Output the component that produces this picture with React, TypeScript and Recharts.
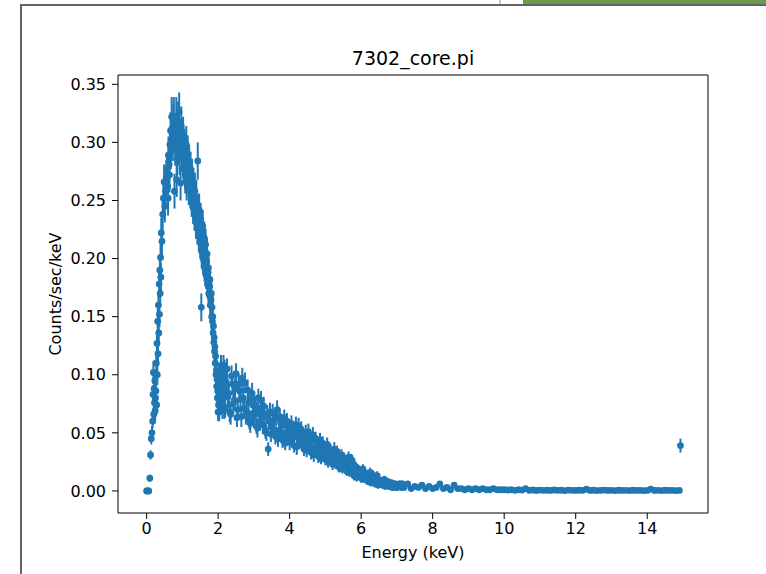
import { ErrorBar, ReferenceArea, Scatter, ScatterChart, XAxis, YAxis } from "recharts";

const BLUE = "#1f77b4";
const FONT = '"DejaVu Sans", sans-serif';

// rise and peak, 0 - 1 keV
const energyPeak = [
  0.0, 0.02, 0.04, 0.06, 0.09, 0.11, 0.13, 0.15, 0.17, 0.18,
  0.19, 0.21, 0.22, 0.24, 0.26, 0.27, 0.29, 0.31, 0.33, 0.35,
  0.37, 0.39, 0.41, 0.43, 0.45, 0.47, 0.49, 0.51, 0.53, 0.55,
  0.57, 0.59, 0.61, 0.63, 0.65, 0.67, 0.7, 0.73, 0.75, 0.78,
  0.81, 0.83, 0.85, 0.87, 0.89, 0.91, 0.93, 0.95, 0.97, 0.99,
  0.2, 0.23, 0.25, 0.28, 0.3, 0.32, 0.34, 0.36, 0.38, 0.4,
  0.6, 0.64, 0.68, 0.72, 0.76, 0.8, 0.84, 0.88, 0.92, 0.96,
];
const ratePeak = [
  0, 0, 0, 0, 0.011, 0.031, 0.045, 0.05, 0.06, 0.083,
  0.102, 0.088, 0.076, 0.069, 0.086, 0.11, 0.127, 0.146, 0.16, 0.178,
  0.19, 0.201, 0.222, 0.215, 0.238, 0.252, 0.266, 0.245, 0.258, 0.27,
  0.276, 0.262, 0.289, 0.281, 0.298, 0.31, 0.322, 0.3, 0.316, 0.258,
  0.305, 0.322, 0.286, 0.312, 0.296, 0.326, 0.304, 0.265, 0.314, 0.291,
  0.066, 0.095, 0.08, 0.074, 0.1, 0.118, 0.136, 0.152, 0.17, 0.184,
  0.252, 0.272, 0.293, 0.305, 0.322, 0.296, 0.268, 0.318, 0.288, 0.3,
];
const errorPeak = [
  0, 0, 0, 0, 0.003, 0.004, 0.005, 0.006, 0.006, 0.008,
  0.01, 0.009, 0.008, 0.008, 0.009, 0.01, 0.011, 0.011, 0.012, 0.012,
  0.012, 0.013, 0.013, 0.013, 0.014, 0.014, 0.015, 0.014, 0.015, 0.015,
  0.015, 0.015, 0.016, 0.016, 0.016, 0.016, 0.017, 0.016, 0.017, 0.015,
  0.016, 0.017, 0.016, 0.017, 0.016, 0.017, 0.016, 0.015, 0.017, 0.016,
  0.007, 0.009, 0.008, 0.008, 0.009, 0.01, 0.011, 0.011, 0.012, 0.012,
  0.015, 0.015, 0.016, 0.016, 0.017, 0.016, 0.015, 0.017, 0.016, 0.016,
];

// fall, 1 - 2.2 keV
const energyFall = [
  1.01, 1.03, 1.05, 1.07, 1.09, 1.11, 1.13, 1.15, 1.17, 1.19,
  1.21, 1.23, 1.25, 1.27, 1.29, 1.31, 1.33, 1.35, 1.37, 1.39,
  1.41, 1.43, 1.45, 1.47, 1.49, 1.51, 1.53, 1.55, 1.57, 1.59,
  1.61, 1.63, 1.65, 1.67, 1.69, 1.71, 1.73, 1.75, 1.77, 1.79,
  1.81, 1.83, 1.85, 1.87, 1.89, 1.91, 1.93, 1.95, 1.97, 1.99,
  2.01, 2.03, 2.05, 2.07, 2.09, 2.11, 2.13, 2.15, 2.17, 2.19,
  1.0, 1.02, 1.04, 1.06, 1.08, 1.1, 1.12, 1.14, 1.16, 1.18,
  1.2, 1.22, 1.24, 1.26, 1.28, 1.3, 1.32, 1.34, 1.36, 1.38,
  1.4, 1.42, 1.44, 1.46, 1.48, 1.5, 1.52, 1.54, 1.56, 1.58,
  1.6, 1.62, 1.64, 1.66, 1.68, 1.7, 1.72, 1.74, 1.76, 1.78,
  1.8, 1.82, 1.84, 1.86, 1.88, 1.9, 1.92, 1.94, 1.96, 1.98,
  2.0, 2.02, 2.04, 2.06, 2.08, 2.1, 2.12, 2.14, 2.16, 2.18,
];
const rateFall = [
  0.302, 0.284, 0.296, 0.276, 0.285, 0.298, 0.278, 0.29, 0.27, 0.282,
  0.266, 0.276, 0.258, 0.27, 0.252, 0.262, 0.246, 0.258, 0.24, 0.252,
  0.236, 0.284, 0.232, 0.242, 0.224, 0.234, 0.158, 0.22, 0.228, 0.21,
  0.218, 0.202, 0.212, 0.196, 0.204, 0.184, 0.192, 0.176, 0.182, 0.166,
  0.17, 0.158, 0.15, 0.142, 0.132, 0.124, 0.116, 0.104, 0.096, 0.086,
  0.074, 0.068, 0.082, 0.094, 0.088, 0.102, 0.079, 0.108, 0.07, 0.092,
  0.292, 0.306, 0.281, 0.294, 0.272, 0.288, 0.266, 0.284, 0.279, 0.262,
  0.274, 0.26, 0.268, 0.25, 0.264, 0.244, 0.256, 0.238, 0.25, 0.231,
  0.244, 0.226, 0.238, 0.22, 0.23, 0.214, 0.226, 0.206, 0.216, 0.2,
  0.21, 0.192, 0.206, 0.186, 0.198, 0.178, 0.188, 0.17, 0.176, 0.16,
  0.164, 0.15, 0.146, 0.136, 0.128, 0.12, 0.11, 0.1, 0.09, 0.08,
  0.068, 0.086, 0.1, 0.076, 0.108, 0.09, 0.07, 0.097, 0.084, 0.104,
];
const errorFall = [
  0.016, 0.016, 0.016, 0.016, 0.016, 0.016, 0.016, 0.016, 0.016, 0.016,
  0.016, 0.016, 0.016, 0.016, 0.016, 0.016, 0.014, 0.016, 0.014, 0.016,
  0.014, 0.016, 0.014, 0.014, 0.014, 0.014, 0.012, 0.014, 0.014, 0.014,
  0.014, 0.014, 0.014, 0.012, 0.014, 0.012, 0.012, 0.012, 0.012, 0.012,
  0.012, 0.012, 0.012, 0.01, 0.01, 0.01, 0.01, 0.01, 0.008, 0.008,
  0.008, 0.008, 0.008, 0.008, 0.008, 0.009, 0.008, 0.009, 0.008, 0.008,
  0.016, 0.016, 0.016, 0.016, 0.016, 0.016, 0.016, 0.016, 0.016, 0.016,
  0.016, 0.016, 0.016, 0.014, 0.016, 0.014, 0.016, 0.014, 0.014, 0.014,
  0.014, 0.014, 0.014, 0.014, 0.014, 0.014, 0.014, 0.014, 0.014, 0.014,
  0.014, 0.012, 0.014, 0.012, 0.012, 0.012, 0.012, 0.012, 0.012, 0.012,
  0.012, 0.012, 0.012, 0.01, 0.01, 0.01, 0.01, 0.01, 0.009, 0.008,
  0.008, 0.009, 0.009, 0.008, 0.009, 0.009, 0.008, 0.009, 0.008, 0.009,
];

// continuum, 2.2 - 7.2 keV
const energyTail = [
  2.2, 2.25, 2.3, 2.35, 2.4, 2.45, 2.5, 2.55, 2.6, 2.65,
  2.7, 2.75, 2.8, 2.85, 2.9, 2.95, 3.0, 3.05, 3.1, 3.15,
  3.2, 3.25, 3.3, 3.35, 3.4, 3.45, 3.5, 3.55, 3.6, 3.65,
  3.7, 3.75, 3.8, 3.85, 3.9, 3.95, 4.0, 4.05, 4.1, 4.15,
  4.2, 4.25, 4.3, 4.35, 4.4, 4.45, 4.5, 4.55, 4.6, 4.65,
  4.7, 4.75, 4.8, 4.85, 4.9, 4.95, 5.0, 5.05, 5.1, 5.15,
  5.2, 5.25, 5.3, 5.35, 5.4, 5.45, 5.5, 5.55, 5.6, 5.65,
  5.7, 5.75, 5.8, 5.85, 5.9, 5.95, 6.0, 6.05, 6.1, 6.15,
  6.2, 6.25, 6.3, 6.35, 6.4, 6.45, 6.5, 6.55, 6.6, 6.65,
  6.7, 6.75, 6.8, 6.85, 6.9, 6.95, 7.0, 7.05, 7.1, 7.15,
  2.225, 2.275, 2.325, 2.375, 2.425, 2.475, 2.525, 2.575, 2.625, 2.675,
  2.725, 2.775, 2.825, 2.875, 2.925, 2.975, 3.025, 3.075, 3.125, 3.175,
  3.225, 3.275, 3.325, 3.375, 3.425, 3.475, 3.525, 3.575, 3.625, 3.675,
  3.725, 3.775, 3.825, 3.875, 3.925, 3.975, 4.025, 4.075, 4.125, 4.175,
  4.225, 4.275, 4.325, 4.375, 4.425, 4.475, 4.525, 4.575, 4.625, 4.675,
  4.725, 4.775, 4.825, 4.875, 4.925, 4.975, 5.025, 5.075, 5.125, 5.175,
  5.225, 5.275, 5.325, 5.375, 5.425, 5.475, 5.525, 5.575, 5.625, 5.675,
  5.725, 5.775, 5.825, 5.875, 5.925, 5.975, 6.025, 6.075, 6.125, 6.175,
  6.225, 6.275, 6.325, 6.375, 6.425, 6.475, 6.525, 6.575, 6.625, 6.675,
  6.725, 6.775, 6.825, 6.875, 6.925, 6.975, 7.025, 7.075, 7.125, 7.175,
];
const rateTail = [
  0.072, 0.105, 0.084, 0.066, 0.092, 0.078, 0.101, 0.07, 0.086, 0.064,
  0.08, 0.093, 0.068, 0.076, 0.058, 0.084, 0.062, 0.071, 0.054, 0.066,
  0.078, 0.057, 0.064, 0.05, 0.036, 0.068, 0.055, 0.061, 0.047, 0.07,
  0.052, 0.059, 0.044, 0.063, 0.05, 0.055, 0.042, 0.058, 0.046, 0.052,
  0.038, 0.056, 0.044, 0.049, 0.036, 0.05, 0.04, 0.046, 0.033, 0.048,
  0.037, 0.042, 0.03, 0.044, 0.034, 0.038, 0.027, 0.04, 0.03, 0.034,
  0.023, 0.036, 0.026, 0.03, 0.02, 0.031, 0.022, 0.026, 0.017, 0.029,
  0.018, 0.026, 0.013, 0.021, 0.015, 0.018, 0.011, 0.019, 0.012, 0.014,
  0.008, 0.016, 0.009, 0.011, 0.006, 0.013, 0.007, 0.009, 0.005, 0.01,
  0.005, 0.008, 0.004, 0.007, 0.004, 0.006, 0.003, 0.005, 0.004, 0.006,
  0.094, 0.081, 0.068, 0.099, 0.075, 0.088, 0.063, 0.092, 0.079, 0.097,
  0.071, 0.065, 0.087, 0.061, 0.079, 0.067, 0.074, 0.056, 0.08, 0.059,
  0.069, 0.073, 0.052, 0.066, 0.06, 0.049, 0.067, 0.053, 0.063, 0.045,
  0.064, 0.048, 0.057, 0.041, 0.06, 0.046, 0.054, 0.049, 0.039, 0.057,
  0.048, 0.042, 0.053, 0.041, 0.046, 0.035, 0.051, 0.038, 0.044, 0.031,
  0.045, 0.033, 0.039, 0.028, 0.041, 0.031, 0.036, 0.025, 0.035, 0.028,
  0.032, 0.024, 0.034, 0.021, 0.027, 0.019, 0.028, 0.018, 0.023, 0.016,
  0.027, 0.016, 0.02, 0.012, 0.017, 0.013, 0.016, 0.01, 0.015, 0.009,
  0.012, 0.007, 0.014, 0.008, 0.01, 0.005, 0.009, 0.006, 0.008, 0.004,
  0.007, 0.004, 0.006, 0.003, 0.005, 0.003, 0.004, 0.006, 0.003, 0.004,
];
const errorTail = [
  0.009, 0.009, 0.009, 0.009, 0.009, 0.009, 0.009, 0.009, 0.009, 0.009,
  0.009, 0.009, 0.008, 0.008, 0.008, 0.009, 0.008, 0.008, 0.008, 0.008,
  0.008, 0.008, 0.008, 0.007, 0.006, 0.008, 0.007, 0.008, 0.007, 0.008,
  0.007, 0.007, 0.007, 0.007, 0.007, 0.007, 0.007, 0.007, 0.007, 0.007,
  0.007, 0.007, 0.007, 0.007, 0.006, 0.007, 0.006, 0.007, 0.006, 0.007,
  0.006, 0.006, 0.006, 0.006, 0.006, 0.006, 0.005, 0.006, 0.005, 0.006,
  0.005, 0.006, 0.005, 0.005, 0.004, 0.005, 0.004, 0.005, 0.004, 0.005,
  0.004, 0.005, 0.004, 0.004, 0.004, 0.004, 0.004, 0.004, 0.004, 0.004,
  0.003, 0.004, 0.003, 0.003, 0.003, 0.004, 0.003, 0.003, 0.003, 0.003,
  0.003, 0.003, 0.003, 0.003, 0.003, 0.003, 0.003, 0.003, 0.003, 0.003,
  0.009, 0.009, 0.009, 0.009, 0.009, 0.009, 0.008, 0.009, 0.009, 0.009,
  0.008, 0.008, 0.009, 0.008, 0.008, 0.008, 0.008, 0.007, 0.008, 0.007,
  0.008, 0.008, 0.007, 0.008, 0.007, 0.007, 0.008, 0.007, 0.007, 0.007,
  0.007, 0.007, 0.007, 0.006, 0.007, 0.006, 0.007, 0.007, 0.006, 0.007,
  0.007, 0.006, 0.007, 0.006, 0.006, 0.006, 0.007, 0.006, 0.006, 0.006,
  0.006, 0.006, 0.006, 0.005, 0.006, 0.005, 0.006, 0.005, 0.006, 0.005,
  0.005, 0.005, 0.005, 0.005, 0.005, 0.004, 0.005, 0.004, 0.005, 0.004,
  0.005, 0.004, 0.004, 0.004, 0.004, 0.004, 0.004, 0.003, 0.004, 0.003,
  0.004, 0.003, 0.004, 0.003, 0.003, 0.003, 0.003, 0.003, 0.003, 0.003,
  0.003, 0.003, 0.003, 0.003, 0.003, 0.003, 0.003, 0.003, 0.003, 0.003,
];

// high-energy floor, 7.2 - 14.9 keV, plus the last channel
const energyHigh = [
  7.2, 7.3, 7.4, 7.5, 7.6, 7.7, 7.8, 7.9, 8.0, 8.1,
  8.2, 8.3, 8.4, 8.5, 8.6, 8.7, 8.8, 8.9, 9.0, 9.1,
  9.2, 9.3, 9.4, 9.5, 9.6, 9.7, 9.8, 9.9, 10.0, 10.1,
  10.2, 10.3, 10.4, 10.5, 10.6, 10.7, 10.8, 10.9, 11.0, 11.1,
  11.2, 11.3, 11.4, 11.5, 11.6, 11.7, 11.8, 11.9, 12.0, 12.1,
  12.2, 12.3, 12.4, 12.5, 12.6, 12.7, 12.8, 12.9, 13.0, 13.1,
  13.2, 13.3, 13.4, 13.5, 13.6, 13.7, 13.8, 13.9, 14.0, 14.1,
  14.2, 14.3, 14.4, 14.5, 14.6, 14.7, 14.8, 14.9, 14.93,
];
const rateHigh = [
  0.003, 0.006, 0.002, 0.004, 0.003, 0.005, 0.002, 0.004, 0.002, 0.003,
  0.006, 0.002, 0.003, 0.001, 0.005, 0.002, 0.002, 0.001, 0.002, 0.001,
  0.002, 0.001, 0.002, 0.001, 0.001, 0.002, 0.001, 0.001, 0.001, 0.0008,
  0.001, 0.0005, 0.001, 0.0007, 0.002, 0.0005, 0.0008, 0.0004, 0.0007, 0.0005,
  0.0006, 0.0004, 0.0008, 0.0005, 0.0006, 0.0003, 0.0007, 0.0005, 0.0004, 0.0006,
  0.0005, 0.0015, 0.0004, 0.0006, 0.0003, 0.0005, 0.0007, 0.0004, 0.0005, 0.0003,
  0.0006, 0.0004, 0.0005, 0.0003, 0.0006, 0.0004, 0.0005, 0.0003, 0.0004, 0.0015,
  0.0004, 0.0005, 0.0003, 0.0006, 0.0004, 0.0005, 0.0003, 0.0004, 0.039,
];
const errorHigh = [
  0.002, 0.002, 0.002, 0.002, 0.002, 0.002, 0.002, 0.002, 0.002, 0.002,
  0.002, 0.0015, 0.0015, 0.001, 0.002, 0.0015, 0.0015, 0.001, 0.0015, 0.001,
  0.001, 0.001, 0.001, 0.001, 0.001, 0.001, 0.001, 0.001, 0.001, 0.0008,
  0.0008, 0.0008, 0.0008, 0.0008, 0.001, 0.0008, 0.0008, 0.0008, 0.0008, 0.0008,
  0.0008, 0.0008, 0.0008, 0.0008, 0.0008, 0.0008, 0.0008, 0.0008, 0.0008, 0.0008,
  0.0008, 0.001, 0.0008, 0.0008, 0.0008, 0.0008, 0.0008, 0.0008, 0.0008, 0.0008,
  0.0008, 0.0008, 0.0008, 0.0008, 0.0008, 0.0008, 0.0008, 0.0008, 0.0008, 0.001,
  0.0008, 0.0008, 0.0008, 0.0008, 0.0008, 0.0008, 0.0008, 0.0008, 0.006,
];

const xTicks = [0, 2, 4, 6, 8, 10, 12, 14];
const yTicks = [0, 0.05, 0.1, 0.15, 0.2, 0.25, 0.3, 0.35];

const energies = [...energyPeak, ...energyFall, ...energyTail, ...energyHigh];
const rates = [...ratePeak, ...rateFall, ...rateTail, ...rateHigh];
const errors = [...errorPeak, ...errorFall, ...errorTail, ...errorHigh];

const points = energies.map((e, i) => ({ energy: e, rate: rates[i], err: errors[i] }));

const Dot = (props: any) => <circle cx={props.cx} cy={props.cy} r={3.4} fill={BLUE} />;

const tickStyle = { fill: "#000", fontSize: 16, fontFamily: FONT };

export default function App() {
  return (
    <div
      style={{
        position: "absolute",
        left: 0,
        top: 0,
        width: 766,
        height: 574,
        background: "#fff",
        overflow: "hidden",
        fontFamily: FONT,
      }}
    >
      {/* window chrome around the screenshot */}
      <div style={{ position: "absolute", left: 499, top: 0, width: 2, height: 4, background: "#c8c8c8" }} />
      <div style={{ position: "absolute", left: 523, top: 0, width: 243, height: 4, background: "#6b9b4b" }} />
      <div style={{ position: "absolute", left: 20, top: 4, width: 746, height: 2, background: "#666" }} />
      <div style={{ position: "absolute", left: 20, top: 4, width: 2, height: 570, background: "#666" }} />

      <div style={{ position: "absolute", left: 0, top: 0 }}>
        <ScatterChart width={766} height={574} margin={{ top: 75, right: 58, bottom: 0, left: 0 }}>
          <XAxis
            type="number"
            dataKey="energy"
            domain={[-0.8, 15.7]}
            ticks={xTicks}
            interval={0}
            allowDataOverflow
            height={61}
            axisLine={false}
            tickLine={{ stroke: "#000" }}
            tickSize={6}
            tickMargin={4}
            tick={tickStyle}
          />
          <YAxis
            type="number"
            dataKey="rate"
            domain={[-0.019, 0.358]}
            ticks={yTicks}
            interval={0}
            allowDataOverflow
            width={118}
            axisLine={false}
            tickLine={{ stroke: "#000" }}
            tickSize={6}
            tickMargin={6}
            tick={tickStyle}
            tickFormatter={(v: number) => v.toFixed(2)}
          />
          <ReferenceArea
            x1={-0.8}
            x2={15.7}
            y1={-0.019}
            y2={0.358}
            fill="none"
            stroke="#000"
            strokeWidth={1}
            ifOverflow="visible"
          />
          <Scatter data={points} shape={Dot} isAnimationActive={false}>
            <ErrorBar dataKey="err" direction="y" width={0} stroke={BLUE} strokeWidth={2} />
          </Scatter>
        </ScatterChart>
      </div>

      <div style={{ position: "absolute", left: 0, top: 47, width: 826, textAlign: "center", fontSize: 19, color: "#000" }}>
        7302_core.pi
      </div>
      <div style={{ position: "absolute", left: 0, top: 543, width: 826, textAlign: "center", fontSize: 16, color: "#000" }}>
        Energy (keV)
      </div>
      <div
        style={{
          position: "absolute",
          left: 55,
          top: 294,
          transform: "translate(-50%, -50%) rotate(-90deg)",
          whiteSpace: "nowrap",
          fontSize: 16,
          color: "#000",
        }}
      >
        Counts/sec/keV
      </div>
    </div>
  );
}
